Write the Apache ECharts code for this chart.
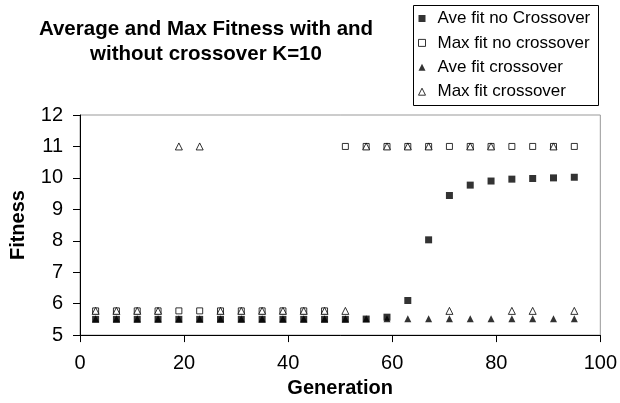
<!DOCTYPE html>
<html>
<head>
<meta charset="utf-8">
<script src="https://cdn.jsdelivr.net/npm/echarts@6/dist/echarts.min.js"></script>
<style>html,body{margin:0;padding:0;background:#fff}#c{width:620px;height:403px}</style>
</head>
<body>
<div id="c"></div>
<script>
const generations = [3,7,11,15,19,23,27,31,35,39,43,47,51,55,59,63,67,71,75,79,83,87,91,95];
const aveFitNoCrossover = [5.5,5.5,5.5,5.5,5.5,5.5,5.5,5.5,5.5,5.5,5.5,5.5,5.5,5.51,5.57,6.1,8.03,9.44,9.77,9.9,9.96,9.98,10.0,10.02];
const maxFitNoCrossover = [5.77,5.77,5.77,5.77,5.77,5.77,5.77,5.77,5.77,5.77,5.77,5.77,11,11,11,11,11,11,11,11,11,11,11,11];
const aveFitCrossover = [5.52,5.52,5.52,5.52,5.52,5.52,5.52,5.52,5.52,5.52,5.52,5.52,5.52,5.52,5.52,5.52,5.52,5.52,5.52,5.52,5.52,5.52,5.52,5.52];
const maxFitCrossover = [5.77,5.77,5.77,5.77,11,11,5.77,5.77,5.77,5.77,5.77,5.77,5.77,11,11,11,11,5.77,11,11,5.77,5.77,11,5.77];
const seriesNames = ['Ave fit no Crossover','Max fit no crossover','Ave fit crossover','Max fit crossover'];
const xTicks = {min:0, max:100, interval:20};
const yTicks = {min:5, max:12, interval:1};

const FONT = '"Liberation Sans", Arial, sans-serif';
const pair = arr => generations.map((g,i)=>[g, arr[i]]);
const filled = {color:'#000', borderColor:'#000', borderWidth:0};
const open = {color:'#fff', borderColor:'#000', borderWidth:1};

const chart = echarts.init(document.getElementById('c'), null, {renderer:'canvas'});
chart.setOption({
  animation:false,
  backgroundColor:'#fff',
  textStyle:{fontFamily:FONT, color:'#000'},
  title:{
    text:'Average and Max Fitness with and\nwithout crossover K=10',
    left:206, top:17, textAlign:'center', padding:0,
    textStyle:{fontFamily:FONT, fontSize:20.5, fontWeight:'bold', color:'#000', lineHeight:25}
  },
  graphic:[{type:'rect', shape:{x:413.5, y:5.5, width:185, height:100}, style:{fill:'#fff', stroke:'#000', lineWidth:1}, z:0}],
  legend:{
    orient:'vertical', left:418, top:10, padding:0,
    itemWidth:7, itemHeight:7, itemGap:7.4,
    textStyle:{fontFamily:FONT, fontSize:17, color:'#000', lineHeight:17, padding:[0,0,0,7]},
    data:[
      {name:seriesNames[0], icon:'rect', itemStyle:filled},
      {name:seriesNames[1], icon:'rect', itemStyle:open},
      {name:seriesNames[2], icon:'triangle', itemStyle:filled},
      {name:seriesNames[3], icon:'triangle', itemStyle:open}
    ],
    z:5
  },
  grid:{left:79.5, right:16.5, top:115, bottom:65, show:true, borderColor:'#999', borderWidth:1, backgroundColor:'#fff'},
  xAxis:{
    type:'value', min:xTicks.min, max:xTicks.max, interval:xTicks.interval,
    name:'Generation', nameLocation:'middle', nameGap:42,
    nameTextStyle:{fontFamily:FONT, fontSize:20, fontWeight:'bold', color:'#000'},
    axisLine:{show:true, onZero:false, lineStyle:{color:'#000', width:1}},
    axisTick:{show:true, inside:false, length:7, lineStyle:{color:'#000'}},
    axisLabel:{fontFamily:FONT, fontSize:20, color:'#000', margin:18},
    splitLine:{show:false}
  },
  yAxis:{
    type:'value', min:yTicks.min, max:yTicks.max, interval:yTicks.interval,
    name:'Fitness', nameLocation:'middle', nameGap:52, nameRotate:90,
    nameTextStyle:{fontFamily:FONT, fontSize:20, fontWeight:'bold', color:'#000'},
    axisLine:{show:true, onZero:false, lineStyle:{color:'#000', width:1}},
    axisTick:{show:true, inside:false, length:7, lineStyle:{color:'#000'}},
    axisLabel:{fontFamily:FONT, fontSize:20, color:'#000', margin:17},
    splitLine:{show:false}
  },
  series:[
    {name:seriesNames[0], type:'scatter', symbol:'rect', symbolSize:7, itemStyle:filled, data:pair(aveFitNoCrossover)},
    {name:seriesNames[1], type:'scatter', symbol:'rect', symbolSize:6, itemStyle:open, data:pair(maxFitNoCrossover)},
    {name:seriesNames[2], type:'scatter', symbol:'triangle', symbolSize:7, itemStyle:filled, data:pair(aveFitCrossover)},
    {name:seriesNames[3], type:'scatter', symbol:'triangle', symbolSize:7, itemStyle:open, data:pair(maxFitCrossover)}
  ]
});
</script>
</body>
</html>
